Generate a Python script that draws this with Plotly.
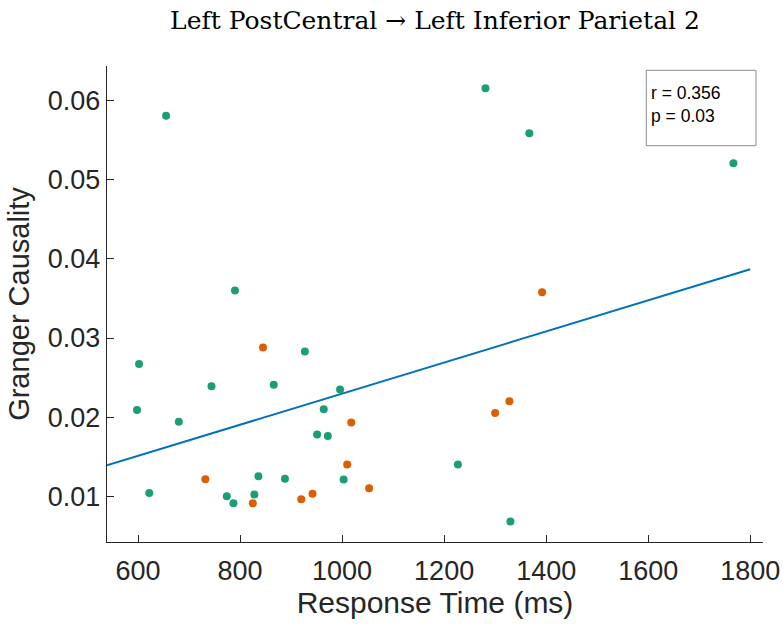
import plotly.graph_objects as go

# Data
green_x = [790, 602, 598, 744, 680, 866, 927, 996, 964, 951, 972, 622, 774, 787, 828, 836, 888, 1003,
           655, 1281, 1367, 1767, 1227, 1330]
green_y = [0.0360, 0.0267, 0.0209, 0.0239, 0.0194, 0.0241, 0.0283, 0.0235, 0.0210, 0.0178, 0.0176, 0.0104,
           0.0100, 0.0091, 0.0102, 0.0125, 0.0122, 0.0121,
           0.0581, 0.0616, 0.0559, 0.0521, 0.0140, 0.0068]
orange_x = [845, 1018, 1010, 732, 825, 920, 942, 1053, 1392, 1328, 1300]
orange_y = [0.0288, 0.0193, 0.0140, 0.01215, 0.0091, 0.0096, 0.0103, 0.0110, 0.0358, 0.0220, 0.0205]
fit_x = [539, 1800]
fit_y = [0.0139, 0.0387]
x_ticks = [600, 800, 1000, 1200, 1400, 1600, 1800]
y_ticks = [0.01, 0.02, 0.03, 0.04, 0.05, 0.06]
y_tick_text = ["0.01", "0.02", "0.03", "0.04", "0.05", "0.06"]
title_text = "Left PostCentral \u2192 Left Inferior Parietal 2"
stats_lines = ["r = 0.356", "p = 0.03"]

TXT = "#262626"
fig = go.Figure()
fig.add_trace(go.Scatter(x=fit_x, y=fit_y, mode="lines",
                         line=dict(color="#0072BD", width=2), showlegend=False))
fig.add_trace(go.Scatter(x=green_x, y=green_y, mode="markers",
                         marker=dict(color="#1B9E77", size=8, line=dict(width=0)), showlegend=False))
fig.add_trace(go.Scatter(x=orange_x, y=orange_y, mode="markers",
                         marker=dict(color="#D95F02", size=8, line=dict(width=0)), showlegend=False))

axis_common = dict(showgrid=False, zeroline=False, showline=True, linecolor=TXT, linewidth=1.4,
                   ticks="inside", ticklen=7, tickwidth=1.2, tickcolor=TXT, mirror=False,
                   automargin=False,
                   tickfont=dict(family="Liberation Sans, Arial", size=27, color=TXT))
fig.update_xaxes(range=[539.2, 1825], tickvals=x_ticks, ticklabelstandoff=4,
                 title=dict(text="Response Time (ms)", standoff=7,
                            font=dict(family="Liberation Sans, Arial", size=30, color=TXT)),
                 **axis_common)
fig.update_yaxes(range=[0.0042, 0.0644], tickvals=y_ticks, ticktext=y_tick_text,
                 title=dict(text="Granger Causality", standoff=9,
                            font=dict(family="Liberation Sans, Arial", size=29, color=TXT)),
                 **axis_common)

fig.add_shape(type="rect", xref="paper", yref="paper", x0=0.8221, x1=0.9893, y0=0.8326, y1=0.9910,
              line=dict(color="#8c8c8c", width=1), fillcolor="white", layer="above")
for line, yy in zip(stats_lines, [0.9439, 0.8950]):
    fig.add_annotation(xref="paper", yref="paper", x=0.8256, y=yy, xanchor="left", yanchor="middle",
                       text=line, showarrow=False,
                       font=dict(family="Liberation Sans, Arial", size=17.5, color="#000000"))

fig.update_layout(
    width=783, height=629, autosize=False,
    margin=dict(l=107, r=20, t=66, b=87),
    plot_bgcolor="white", paper_bgcolor="white",
    title=dict(text=title_text, x=0.5, xref="paper", xanchor="center", y=1 - 20 / 629, yanchor="middle",
               font=dict(family="DejaVu Serif", size=25, color="#000000")),
)
fig.write_html("out.html")
